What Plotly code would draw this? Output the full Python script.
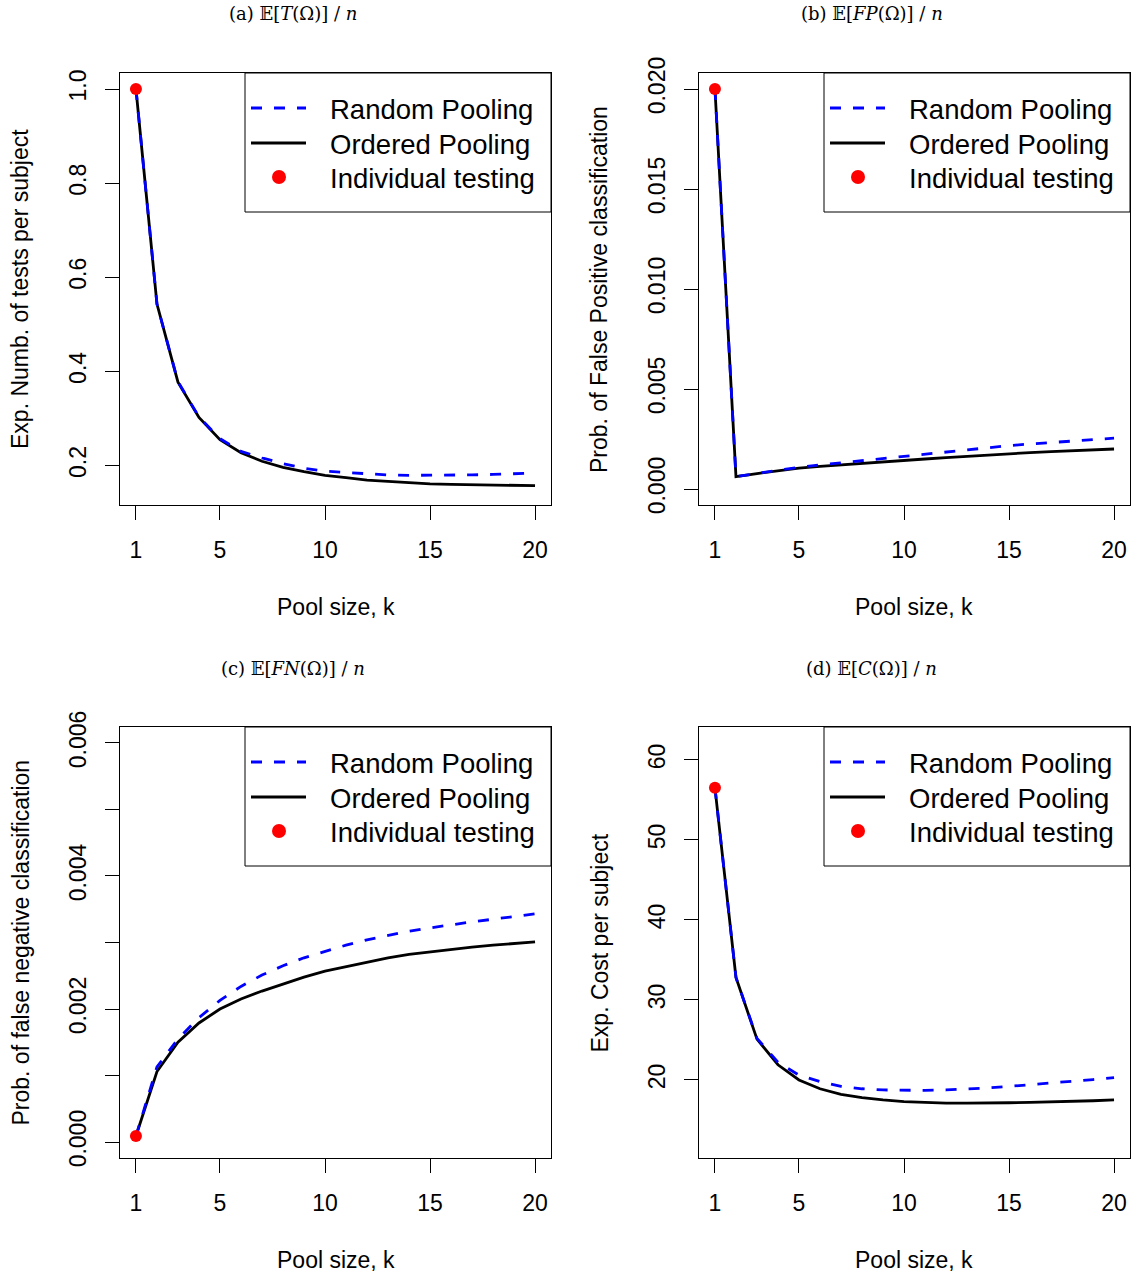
import plotly.graph_objects as go

W, H = 1132, 1274

pool_size = list(range(1, 21))
x_ticks = [1, 5, 10, 15, 20]

# (a) expected number of tests per subject
tests_random = [1.000, 0.543, 0.378, 0.303, 0.257, 0.230, 0.216, 0.204, 0.194, 0.188,
                0.185, 0.182, 0.180, 0.179, 0.179, 0.179, 0.180, 0.181, 0.182, 0.184]
tests_ordered = [1.000, 0.543, 0.377, 0.302, 0.255, 0.227, 0.209, 0.196, 0.187, 0.179,
                 0.174, 0.169, 0.166, 0.163, 0.161, 0.160, 0.159, 0.158, 0.157, 0.157]
tests_individual = 1.000

# (b) probability of a false positive classification
fp_random = [0.02000, 0.00062, 0.00078, 0.00094, 0.00109, 0.00120, 0.00131, 0.00142, 0.00152, 0.00162,
             0.00173, 0.00184, 0.00195, 0.00206, 0.00217, 0.00225, 0.00233, 0.00240, 0.00247, 0.00254]
fp_ordered = [0.02000, 0.00062, 0.00077, 0.00091, 0.00104, 0.00113, 0.00121, 0.00129, 0.00136, 0.00142,
              0.00150, 0.00157, 0.00164, 0.00171, 0.00177, 0.00182, 0.00187, 0.00192, 0.00196, 0.00200]
fp_individual = 0.02000

# (c) probability of a false negative classification
fn_random = [0.00009, 0.00113, 0.00155, 0.00187, 0.00213, 0.00234, 0.00251, 0.00265, 0.00277, 0.00287,
             0.00296, 0.00304, 0.00311, 0.00317, 0.00322, 0.00327, 0.00331, 0.00335, 0.00339, 0.00343]
fn_ordered = [0.00009, 0.00106, 0.00150, 0.00179, 0.00200, 0.00215, 0.00227, 0.00238, 0.00248, 0.00257,
              0.00264, 0.00271, 0.00277, 0.00282, 0.00286, 0.00290, 0.00293, 0.00296, 0.00299, 0.00301]
fn_individual = 0.00009

# (d) expected cost per subject
cost_random = [56.5, 32.8, 25.2, 22.2, 20.6, 19.8, 19.2, 18.9, 18.75, 18.7,
               18.7, 18.75, 18.85, 19.0, 19.2, 19.4, 19.6, 19.8, 20.05, 20.3]
cost_ordered = [56.5, 32.8, 25.1, 21.9, 20.0, 18.9, 18.2, 17.8, 17.5, 17.3,
                17.2, 17.1, 17.1, 17.1, 17.15, 17.2, 17.25, 17.3, 17.4, 17.5]
cost_individual = 56.5

legend_labels = ["Random Pooling", "Ordered Pooling", "Individual testing"]

panels = [
    dict(title="(a) 𝔼[<i>T</i>(Ω)] / <i>n</i>", ytitle="Exp. Numb. of tests per subject",
         random=tests_random, ordered=tests_ordered, single=tests_individual,
         yrange=[0.116, 1.034], yticks=[0.2, 0.4, 0.6, 0.8, 1.0],
         ytext=["0.2", "0.4", "0.6", "0.8", "1.0"], box=(120, 551, 73, 505)),
    dict(title="(b) 𝔼[<i>FP</i>(Ω)] / <i>n</i>", ytitle="Prob. of False Positive classification",
         random=fp_random, ordered=fp_ordered, single=fp_individual,
         yrange=[-0.0008, 0.0208], yticks=[0.0, 0.005, 0.010, 0.015, 0.020],
         ytext=["0.000", "0.005", "0.010", "0.015", "0.020"], box=(699, 1130, 73, 505)),
    dict(title="(c) 𝔼[<i>FN</i>(Ω)] / <i>n</i>", ytitle="Prob. of false negative classification",
         random=fn_random, ordered=fn_ordered, single=fn_individual,
         yrange=[-0.00024, 0.00624], yticks=[0.0, 0.001, 0.002, 0.003, 0.004, 0.005, 0.006],
         ytext=["0.000", "", "0.002", "", "0.004", "", "0.006"], box=(120, 551, 727, 1158)),
    dict(title="(d) 𝔼[<i>C</i>(Ω)] / <i>n</i>", ytitle="Exp. Cost per subject",
         random=cost_random, ordered=cost_ordered, single=cost_individual,
         yrange=[10.25, 64.1], yticks=[20, 30, 40, 50, 60],
         ytext=["20", "30", "40", "50", "60"], box=(699, 1130, 727, 1158)),
]

SANS = "Liberation Sans, Arial, sans-serif"
SERIF = "DejaVu Serif, serif"

fig = go.Figure()
layout = dict(
    width=W, height=H, autosize=False,
    margin=dict(l=0, r=0, t=0, b=0, pad=0, autoexpand=False),
    paper_bgcolor="white", plot_bgcolor="white",
    showlegend=False, font=dict(family=SANS, color="black"),
)
shapes, annotations = [], []

for i, p in enumerate(panels, start=1):
    suffix = "" if i == 1 else str(i)
    xa, ya = "x" + suffix, "y" + suffix
    left, right, top, bottom = p["box"]
    bw, bh = right - left, bottom - top

    def fx(px):
        return (px - left) / bw

    def fy(py):
        return 1 - (py - top) / bh

    fig.add_trace(go.Scatter(x=pool_size, y=p["ordered"], mode="lines", xaxis=xa, yaxis=ya,
                             line=dict(color="black", width=2.8), name=legend_labels[1]))
    fig.add_trace(go.Scatter(x=pool_size, y=p["random"], mode="lines", xaxis=xa, yaxis=ya,
                             line=dict(color="#0000ff", width=2.8, dash="11px,12px"),
                             name=legend_labels[0]))
    fig.add_trace(go.Scatter(x=[pool_size[0]], y=[p["single"]], mode="markers", xaxis=xa, yaxis=ya,
                             marker=dict(color="#ff0000", size=12), name=legend_labels[2]))

    axis_common = dict(showgrid=False, zeroline=False, showline=True, mirror=True,
                       linecolor="black", linewidth=1, ticks="outside", ticklen=14,
                       tickwidth=1, tickcolor="black", automargin=False,
                       tickfont=dict(family=SANS, size=23, color="black"))
    layout["xaxis" + suffix] = dict(axis_common, domain=[left / W, right / W],
                                    range=[0.24, 20.76], tickvals=x_ticks,
                                    ticktext=[str(v) for v in x_ticks],
                                    anchor=ya, ticklabelstandoff=10)
    layout["yaxis" + suffix] = dict(axis_common, domain=[1 - bottom / H, 1 - top / H],
                                    range=p["yrange"], tickvals=p["yticks"], ticktext=p["ytext"],
                                    tickangle=-90, anchor=xa, ticklabelstandoff=10)

    xref, yref = xa + " domain", ya + " domain"

    # panel caption
    annotations.append(dict(text=p["title"], xref="paper", yref="paper",
                            x=(left + bw / 2 - 43) / W, y=1 - (top - 59) / H,
                            xanchor="center", yanchor="middle", showarrow=False,
                            font=dict(family=SERIF, size=18, color="black")))
    # axis titles
    annotations.append(dict(text="Pool size, k", xref=xref, yref=yref, x=0.5, y=fy(bottom + 102),
                            xanchor="center", yanchor="middle", showarrow=False,
                            font=dict(family=SANS, size=23, color="black")))
    annotations.append(dict(text=p["ytitle"], xref=xref, yref=yref, x=fx(left - 100), y=0.5,
                            xanchor="center", yanchor="middle", textangle=-90, showarrow=False,
                            font=dict(family=SANS, size=23, color="black")))

    # legend box in the top-right corner
    shapes.append(dict(type="rect", xref=xref, yref=yref, x0=fx(right - 306), x1=1.0,
                       y0=fy(top + 139), y1=1.0, line=dict(color="black", width=1),
                       fillcolor="rgba(0,0,0,0)", layer="above"))
    rows = [top + 35, top + 70, top + 104]
    shapes.append(dict(type="line", xref=xref, yref=yref, x0=fx(right - 300), x1=fx(right - 245),
                       y0=fy(rows[0]), y1=fy(rows[0]),
                       line=dict(color="#0000ff", width=2.8, dash="11px,12px")))
    shapes.append(dict(type="line", xref=xref, yref=yref, x0=fx(right - 300), x1=fx(right - 245),
                       y0=fy(rows[1]), y1=fy(rows[1]), line=dict(color="black", width=2.8)))
    shapes.append(dict(type="circle", xref=xref, yref=yref, xsizemode="pixel", ysizemode="pixel",
                       xanchor=fx(right - 272), yanchor=fy(rows[2]), x0=-7, x1=7, y0=-7, y1=7,
                       fillcolor="#ff0000", line=dict(color="#ff0000", width=0)))
    for label, row in zip(legend_labels, rows):
        annotations.append(dict(text=label, xref=xref, yref=yref, x=fx(right - 223), y=fy(row + 1),
                                xanchor="left", yanchor="middle", showarrow=False,
                                font=dict(family=SANS, size=27.5, color="black")))

layout["shapes"] = shapes
layout["annotations"] = annotations
fig.update_layout(**layout)
fig.write_html("out.html")
